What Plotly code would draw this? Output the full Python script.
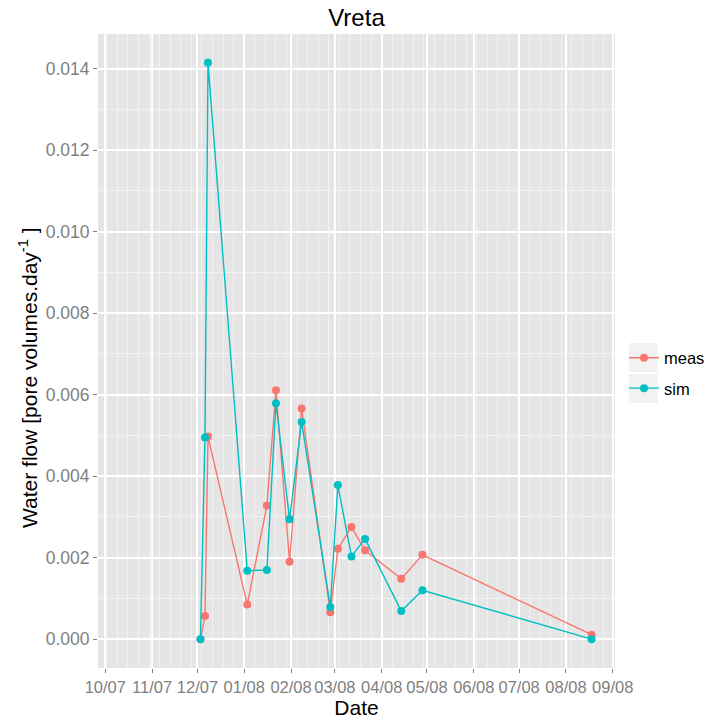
import plotly.graph_objects as go

dates = ["2007-12-03", "2007-12-06", "2007-12-08", "2008-01-03", "2008-01-16",
         "2008-01-22", "2008-01-31", "2008-02-08", "2008-02-27", "2008-03-03",
         "2008-03-12", "2008-03-21", "2008-04-14", "2008-04-28", "2008-08-18"]
meas = [0.0, 0.00057, 0.00497, 0.00085, 0.00328, 0.00611, 0.0019, 0.00566,
        0.00066, 0.00222, 0.00275, 0.00218, 0.00148, 0.00207, 0.00011]
sim = [0.0, 0.00495, 0.01414, 0.00168, 0.0017, 0.00579, 0.00294, 0.00533,
       0.00079, 0.00378, 0.00203, 0.00246, 0.00069, 0.0012, 0.0]

series = [("meas", meas, "#F8766D"), ("sim", sim, "#00BFC4")]

FONT = "Liberation Sans, Arial, sans-serif"
PL, PR, PT, PB = 98, 615, 34, 668
PW, PH = PR - PL, PB - PT

fig = go.Figure()
for name, vals, col in series:
    fig.add_trace(go.Scatter(
        x=dates, y=vals, name=name, mode="lines+markers",
        line=dict(color=col, width=1.4),
        marker=dict(color=col, size=8),
        legendgroup=name,
    ))

# legend key backgrounds (ggplot style)
for y0, y1 in [(343, 372), (374, 403)]:
    fig.add_shape(type="rect", xref="paper", yref="paper",
                  x0=(629 - PL) / PW, x1=(658 - PL) / PW,
                  y0=1 - (y1 - PT) / PH, y1=1 - (y0 - PT) / PH,
                  fillcolor="#F2F2F2", line=dict(width=0), layer="below")

# y-axis title (placed as in the reference, slightly below panel centre)
fig.add_annotation(
    text="Water flow [pore volumes.day<sup>-1</sup> ]",
    xref="paper", yref="paper",
    x=(28 - PL) / PW, y=1 - (378 - PT) / PH,
    xanchor="center", yanchor="middle", textangle=-90, showarrow=False,
    font=dict(size=21, color="black", family=FONT),
)

fig.update_layout(
    width=710, height=722,
    margin=dict(l=PL, r=710 - PR, t=PT, b=722 - PB, autoexpand=False),
    paper_bgcolor="white", plot_bgcolor="#E5E5E5",
    font=dict(family=FONT, color="black"),
    title=dict(text="Vreta", x=0.5, xref="paper", xanchor="center",
               y=1 - 18 / 722, yanchor="middle",
               font=dict(size=24, color="black")),
    showlegend=True,
    legend=dict(x=(624 - PL) / PW, xanchor="left",
                y=1 - (373 - PT) / PH, yanchor="middle",
                font=dict(size=16.5, color="black"), bgcolor="rgba(0,0,0,0)",
                traceorder="grouped", tracegroupgap=6, itemwidth=30),
    xaxis=dict(
        type="date", automargin=False,
        range=["2007-09-26 04:00", "2008-09-02 12:00"],
        tick0="2007-10-01", dtick="M1", tickformat="%m/%y", tickangle=0,
        showgrid=True, gridcolor="white", gridwidth=1.5,
        ticks="outside", ticklen=4, tickcolor="#7F7F7F", tickwidth=1,
        tickfont=dict(size=16.5, color="#7F7F7F"),
        minor=dict(showgrid=True, gridcolor="#F2F2F2", gridwidth=0.8,
                   tick0="2007-10-02", dtick=7 * 86400000),
        zeroline=False, showline=False,
        title=dict(text="Date", font=dict(size=21, color="black"), standoff=3),
    ),
    yaxis=dict(
        automargin=False,
        range=[-0.000707, 0.014848],
        tick0=0, dtick=0.002, tickformat=".3f",
        showgrid=True, gridcolor="white", gridwidth=1.5,
        ticks="outside", ticklen=4, tickcolor="#7F7F7F", tickwidth=1,
        tickfont=dict(size=17.5, color="#7F7F7F"),
        minor=dict(showgrid=True, gridcolor="#F2F2F2", gridwidth=0.8,
                   tick0=0.001, dtick=0.002),
        zeroline=False, showline=False,
    ),
)

fig.write_html("out.html")
